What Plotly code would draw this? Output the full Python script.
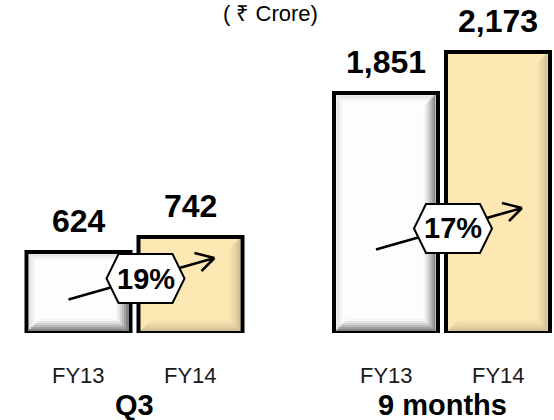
import plotly.graph_objects as go

# ---- data -------------------------------------------------------------
years = ["FY13", "FY14"]
periods = ["Q3", "9 months"]
q3_values = [624, 742]
nine_month_values = [1851, 2173]
unit_label = "( ₹ Crore)"

# ---- styling ----------------------------------------------------------
FONT = "Arial, 'Liberation Sans', sans-serif"
W, H = 554, 420
bar_fill = ["#fdfdfd", "#fde8b4"]
bevel_dark = [0.48, 0.16]      # shadow strength on bottom/right edges
bevel_light = [0.10, 0.0]      # faint grey rim on top/left edges
BAR_W = 0.92
Y_MAX = 2571
PLOT_TOP_PX = 0
BASE_PX = 333                  # pixel row of the value axis baseline
DOMAINS = [(22.5 / W, 246.5 / W), (330 / W, 554 / W)]
CAT_PX = 112                   # pixels per category on each x axis
DX = 1 / CAT_PX                # data units per pixel (x)
DY = Y_MAX / (BASE_PX - PLOT_TOP_PX)   # data units per pixel (y)

series = [q3_values, nine_month_values]
axis_ids = [("x", "y"), ("x2", "y2")]
badge_y = [1 - 278.5 / H, 1 - 228.5 / H]

fig = go.Figure()

for s, vals in enumerate(series):
    xa, ya = axis_ids[s]
    fig.add_trace(go.Bar(
        x=years, y=vals, width=BAR_W,
        marker=dict(color=bar_fill, line=dict(color="black", width=4)),
        xaxis=xa, yaxis=ya, showlegend=False, hoverinfo="x+y",
    ))

shapes = []
annotations = []

# bevelled inner edges of each bar
N_STRIP, D = 6, 2
for s, vals in enumerate(series):
    xa, ya = axis_ids[s]
    for i, v in enumerate(vals):
        xl, xr = i - BAR_W / 2, i + BAR_W / 2
        for k in range(N_STRIP):
            a0 = 2 + k * D
            a1 = a0 + D
            fade = (N_STRIP - k) / N_STRIP
            dark = f"rgba(0,0,0,{bevel_dark[i] * fade ** 1.5:.3f})"
            # bottom
            shapes.append(dict(type="rect", xref=xa, yref=ya, layer="above",
                               x0=xl + a0 * DX, x1=xr - a0 * DX,
                               y0=a0 * DY, y1=a1 * DY,
                               fillcolor=dark, line=dict(width=0)))
            # right
            shapes.append(dict(type="rect", xref=xa, yref=ya, layer="above",
                               x0=xr - a1 * DX, x1=xr - a0 * DX,
                               y0=a1 * DY, y1=v - a0 * DY,
                               fillcolor=dark, line=dict(width=0)))
            if bevel_light[i] > 0 and k < 3:
                lite = f"rgba(0,0,0,{bevel_light[i] * (3 - k) / 3:.3f})"
                shapes.append(dict(type="rect", xref=xa, yref=ya, layer="above",
                                   x0=xl + a1 * DX, x1=xr - a1 * DX,
                                   y0=v - a1 * DY, y1=v - a0 * DY,
                                   fillcolor=lite, line=dict(width=0)))
                shapes.append(dict(type="rect", xref=xa, yref=ya, layer="above",
                                   x0=xl + a0 * DX, x1=xl + a1 * DX,
                                   y0=a1 * DY, y1=v - a0 * DY,
                                   fillcolor=lite, line=dict(width=0)))

# growth arrow + hexagon badge between each pair of bars
OFF = 11
tail = (-77 + OFF, -21)
tip = (69 + OFF, 20.5)
arrow_path = (f"M {tail[0]},{tail[1]} L {tip[0]},{tip[1]} "
              f"M {tip[0]},{tip[1]} L {tip[0] - 20},{tip[1] + 5} "
              f"M {tip[0]},{tip[1]} L {tip[0] - 13},{tip[1] - 13}")
hw, hh, ind = 39, 24.5, 12
hex_path = (f"M {OFF - hw},0 L {OFF - hw + ind},{hh} L {OFF + hw - ind},{hh} "
            f"L {OFF + hw},0 L {OFF + hw - ind},{-hh} L {OFF - hw + ind},{-hh} Z")

for s, vals in enumerate(series):
    xa, ya = axis_ids[s]
    growth = round((vals[1] / vals[0] - 1) * 100)
    common = dict(xref=xa, yref="paper", xsizemode="pixel", ysizemode="pixel",
                  xanchor=0.5, yanchor=badge_y[s], layer="above")
    shapes.append(dict(type="path", path=arrow_path,
                       line=dict(color="black", width=2.5), **common))
    shapes.append(dict(type="path", path=hex_path, fillcolor="white",
                       line=dict(color="black", width=2), **common))
    annotations.append(dict(xref=xa, yref="paper", x=0.5, y=badge_y[s],
                            xshift=OFF, text=f"{growth}%", showarrow=False,
                            xanchor="center", yanchor="middle",
                            font=dict(family=FONT, size=29, color="black",
                                      weight="bold")))

    # value labels
    for i, v in enumerate(vals):
        annotations.append(dict(xref=xa, yref=ya, x=years[i], y=v,
                                text=f"{v:,}", showarrow=False,
                                xanchor="center", yanchor="bottom", yshift=11,
                                font=dict(family=FONT, size=32, color="black",
                                          weight="bold")))
        annotations.append(dict(xref=xa, yref="paper", x=years[i],
                                y=1 - 375 / H, text=years[i], showarrow=False,
                                xanchor="center", yanchor="middle",
                                font=dict(family=FONT, size=22, color="#1a1a1a")))
    annotations.append(dict(xref=f"{xa} domain", yref="paper", x=0.5,
                            y=1 - 405 / H, text=periods[s], showarrow=False,
                            xanchor="center", yanchor="middle",
                            font=dict(family=FONT, size=29, color="black",
                                      weight="bold")))

annotations.append(dict(xref="paper", yref="paper", x=270 / W, y=1 - 14 / H,
                        text=unit_label, showarrow=False,
                        xanchor="center", yanchor="middle",
                        font=dict(family=FONT, size=22, color="black")))

axis_common = dict(showgrid=False, zeroline=False, showline=False,
                   showticklabels=False, ticks="", fixedrange=True)
y_dom = [(H - BASE_PX) / H, 1 - PLOT_TOP_PX / H]

fig.update_layout(
    width=W, height=H,
    margin=dict(l=0, r=0, t=0, b=0),
    paper_bgcolor="white", plot_bgcolor="rgba(0,0,0,0)",
    font=dict(family=FONT),
    xaxis=dict(domain=DOMAINS[0], range=[-0.5, 1.5], anchor="y", **axis_common),
    yaxis=dict(domain=y_dom, range=[0, Y_MAX], anchor="x", **axis_common),
    xaxis2=dict(domain=DOMAINS[1], range=[-0.5, 1.5], anchor="y2", **axis_common),
    yaxis2=dict(domain=y_dom, range=[0, Y_MAX], anchor="x2", **axis_common),
    shapes=shapes,
    annotations=annotations,
    bargap=0,
)

fig.write_html("out.html")
